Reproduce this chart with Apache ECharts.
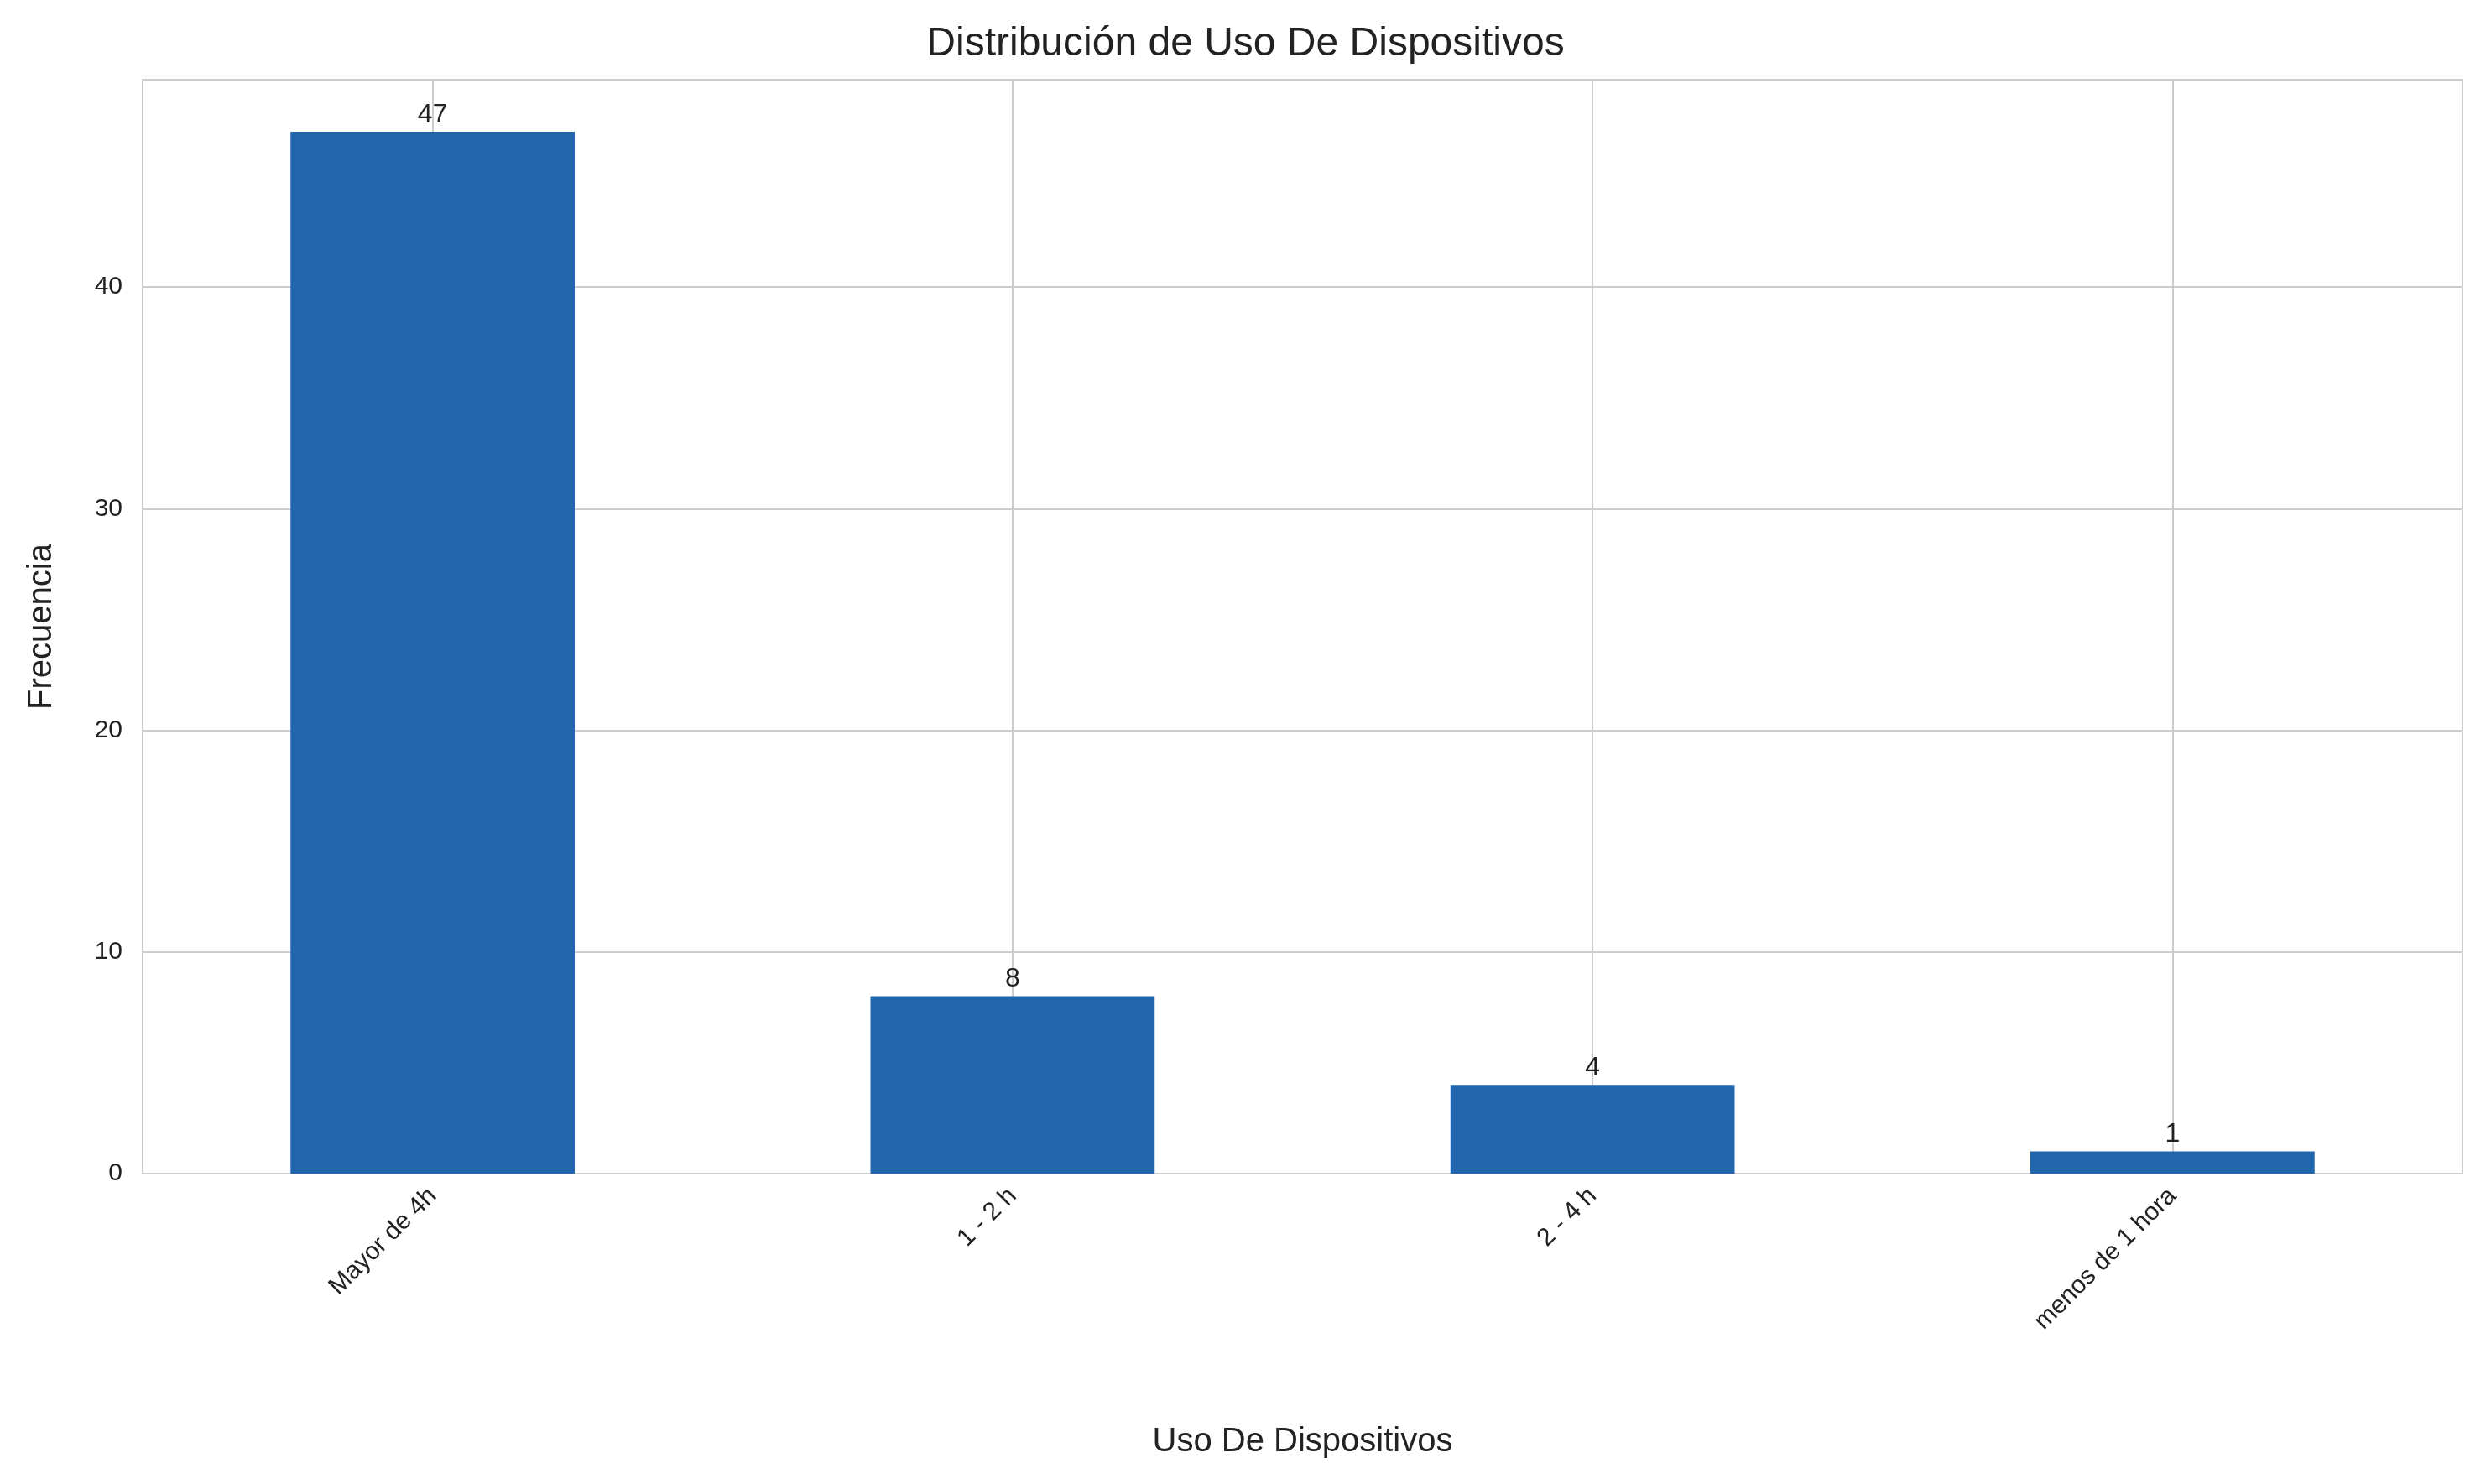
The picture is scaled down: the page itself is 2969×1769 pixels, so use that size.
<!DOCTYPE html>
<html><head><meta charset="utf-8">
<script src="https://cdn.jsdelivr.net/npm/echarts@6/dist/echarts.min.js"></script>
<style>html,body{margin:0;padding:0;background:#fff}#c{width:2969px;height:1769px}</style>
</head><body><div id="c"></div>
<script>
const categories = ['Mayor de 4h', '1 - 2 h', '2 - 4 h', 'menos de 1 hora'];
const values = [47, 8, 4, 1];
const yTicks = [0, 10, 20, 30, 40];
const chart = echarts.init(document.getElementById('c'));
const font = 'Arial, "Liberation Sans", sans-serif';
chart.setOption({
  animation: false,
  title: { text: 'Distribución de Uso De Dispositivos', left: 'center', top: 24,
    textStyle: { fontFamily: font, fontSize: 48, fontWeight: 'normal', color: '#222' } },
  grid: { left: 170, right: 34, top: 95, bottom: 370, show: true, borderColor: '#cccccc', borderWidth: 2 },
  xAxis: { type: 'category', data: categories, name: 'Uso De Dispositivos', nameLocation: 'middle', nameGap: 300,
    nameTextStyle: { fontFamily: font, fontSize: 40, color: '#222' },
    axisLine: { show: false }, axisTick: { show: false },
    axisLabel: { rotate: 45, fontFamily: font, fontSize: 30, color: '#222', margin: 22 } },
  yAxis: { type: 'value', min: 0, max: 49.35, interval: 10, name: 'Frecuencia', nameLocation: 'middle', nameGap: 100,
    nameTextStyle: { fontFamily: font, fontSize: 40, color: '#222' },
    axisLine: { show: false }, axisTick: { show: false },
    axisLabel: { fontFamily: font, fontSize: 30, color: '#222', margin: 24,
      formatter: v => yTicks.includes(v) ? String(v) : '' },
    splitLine: { lineStyle: { color: '#cccccc', width: 2 } } },
  series: [
    { type: 'line', z: 0, data: [], markLine: { silent: true, symbol: 'none', label: { show: false },
        lineStyle: { color: '#cccccc', width: 2, type: 'solid' },
        data: categories.map(c => ({ xAxis: c })) } },
    { type: 'bar', z: 5, data: values, barWidth: '49%', itemStyle: { color: '#2166ac' },
      label: { show: true, position: 'top', distance: 4, fontFamily: font, fontSize: 32, color: '#222' } }
  ]
});
</script></body></html>
